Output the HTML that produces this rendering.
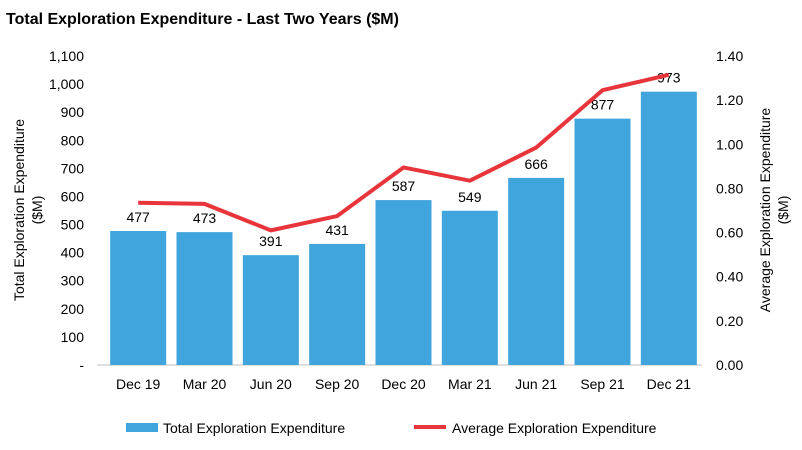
<!DOCTYPE html>
<html><head><meta charset="utf-8"><style>
body{margin:0;background:#fff;font-family:"Liberation Sans",Arial,sans-serif;}
svg text{font-family:"Liberation Sans",Arial,sans-serif;fill:#000;}
</style></head><body>
<svg id="chart" width="802" height="445" viewBox="0 0 802 445" xmlns="http://www.w3.org/2000/svg">
<text x="6" y="24" font-size="16" font-weight="bold">Total Exploration Expenditure - Last Two Years ($M)</text>
<g id="axes"></g>
<g id="bars"></g>
<g id="line"></g>
<g id="legend">
<rect x="126" y="423" width="32" height="9" fill="#3fa5dc"/>
<text x="163" y="433" font-size="14">Total Exploration Expenditure</text>
<line x1="414" y1="427" x2="446" y2="427" stroke="#e8353b" stroke-width="4"/>
<text x="452" y="433" font-size="14">Average Exploration Expenditure</text>
</g>
<text transform="translate(24,210) rotate(-90)" text-anchor="middle" font-size="14">Total Exploration Expenditure</text>
<text transform="translate(42,210) rotate(-90)" text-anchor="middle" font-size="14">($M)</text>
<text transform="translate(770,210) rotate(-90)" text-anchor="middle" font-size="14">Average Exploration Expenditure</text>
<text transform="translate(788,210) rotate(-90)" text-anchor="middle" font-size="14">($M)</text>
</svg>
<script>
const categories=["Dec 19","Mar 20","Jun 20","Sep 20","Dec 20","Mar 21","Jun 21","Sep 21","Dec 21"];
const totalValues=[477,473,391,431,587,549,666,877,973];
const avgValues=[0.735,0.73,0.61,0.675,0.895,0.835,0.985,1.245,1.315];
const leftTicks=["-","100","200","300","400","500","600","700","800","900","1,000","1,100"];
const rightTicks=["0.00","0.20","0.40","0.60","0.80","1.00","1.20","1.40"];
const NS="http://www.w3.org/2000/svg";
const x0=105,x1=702,yB=365,yT=56;
const band=(x1-x0)/categories.length;
const xc=i=>x0+band*(i+0.5);
const yL=v=>yB-(v/1100)*(yB-yT);
const yR=v=>yB-(v/1.4)*(yB-yT);
function mk(tag,attrs,parent,txt){const e=document.createElementNS(NS,tag);for(const k in attrs)e.setAttribute(k,attrs[k]);if(txt!==undefined)e.textContent=txt;document.getElementById(parent).appendChild(e);return e;}
leftTicks.forEach((t,i)=>{const e=mk('text',{x:84,y:yL(i*100)+5,'text-anchor':'end','font-size':14},'axes',t);

});
rightTicks.forEach((t,i)=>{const e=mk('text',{x:716,y:yR(i*0.2)+5,'font-size':14},'axes',t);

});
const ax=mk('line',{x1:x0-8,y1:yB,x2:x1,y2:yB,stroke:'#bfbfbf','stroke-width':1},'axes');


categories.forEach((c,i)=>{const e=mk('text',{x:xc(i),y:yB+24,'text-anchor':'middle','font-size':14},'axes',c);


const v=totalValues[i];
const b=mk('rect',{x:xc(i)-28,y:yL(v),width:56,height:yB-yL(v),fill:'#3fa5dc'},'bars');


const l=mk('text',{x:xc(i),y:yL(v)-9,'text-anchor':'middle','font-size':14},'bars',String(v));

});
const pts=avgValues.map((v,i)=>xc(i)+','+yR(v)).join(' ');
const pl=mk('polyline',{points:pts,fill:'none',stroke:'#e8353b','stroke-width':4,'stroke-linejoin':'round'},'line');


</script>
</body></html>
